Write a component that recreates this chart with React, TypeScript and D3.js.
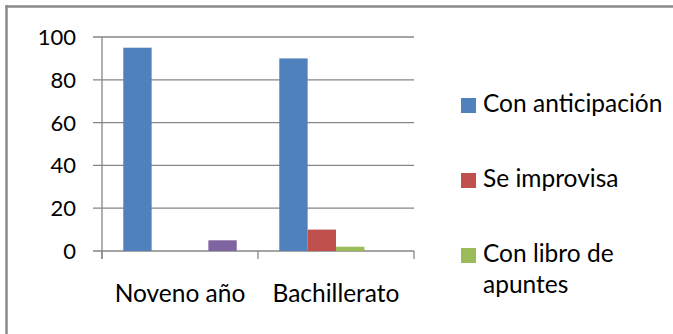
import React from "react";
import * as d3 from "d3";

const categories = ["Noveno año", "Bachillerato"];
const seriesNames = ["Con anticipación", "Se improvisa", "Con libro de apuntes", "Otro"];
const conAnticipacion = [95, 90];
const seImprovisa = [0, 10];
const conLibro = [0, 2];
const otro = [5, 0];
const yTicks = [0, 20, 40, 60, 80, 100];
const legendItems = [
  { name: "Con anticipación", lines: ["Con anticipación"] },
  { name: "Se improvisa", lines: ["Se improvisa"] },
  { name: "Con libro de apuntes", lines: ["Con libro de", "apuntes"] },
];

const colors: Record<string, string> = {
  "Con anticipación": "#4F81BD",
  "Se improvisa": "#C0504D",
  "Con libro de apuntes": "#9BBB59",
  Otro: "#8064A2",
};

const seriesValues = [conAnticipacion, seImprovisa, conLibro, otro];

export default function App() {
  const W = 673;
  const H = 334;
  const left = 102;
  const right = 414;
  const top = 37;
  const bottom = 251;
  const font = "Lato, 'Open Sans', sans-serif";
  const fsTick = 22;
  const fs = 24.5;

  const y = d3.scaleLinear().domain([0, 100]).range([bottom, top]);
  const x0 = d3
    .scaleBand<string>()
    .domain(categories)
    .range([left, right])
    .paddingInner(1.5 / 5.5)
    .paddingOuter(0.75 / 5.5);
  const x1 = d3
    .scaleBand<string>()
    .domain(seriesNames)
    .range([0, x0.bandwidth()]);
  const step = (right - left) / categories.length;
  const grid = "#868686";

  return (
    <svg
      width={W}
      height={H}
      style={{ position: "fixed", left: 0, top: 0, display: "block", background: "#fff", overflow: "hidden" }}
    >
      <rect x={0} y={0} width={W} height={H} fill="#fff" />
      {/* outer border (only left/top visible) */}
      <line x1={6.5} x2={6.5} y1={5.3} y2={H} stroke="#8a8a8a" strokeWidth={2.5} />
      <line x1={5.3} x2={W} y1={6.5} y2={6.5} stroke="#8a8a8a" strokeWidth={2.5} />

      {/* gridlines */}
      {yTicks.map((t) => (
        <line key={"g" + t} x1={left - 9} x2={right} y1={y(t)} y2={y(t)} stroke={grid} strokeWidth={1.3} />
      ))}
      {/* y axis */}
      <line x1={left} x2={left} y1={top} y2={bottom + 8} stroke={grid} strokeWidth={1.3} />
      {/* x tick marks */}
      {d3.range(categories.length + 1).map((i) => (
        <line
          key={"xt" + i}
          x1={left + i * step}
          x2={left + i * step}
          y1={bottom}
          y2={bottom + 8}
          stroke={grid}
          strokeWidth={1.3}
        />
      ))}

      {/* bars */}
      {categories.map((c, ci) =>
        seriesNames.map((s, si) => {
          const v = seriesValues[si][ci];
          if (!v) return null;
          return (
            <rect
              key={c + s}
              x={(x0(c) as number) + (x1(s) as number)}
              y={y(v)}
              width={x1.bandwidth()}
              height={y(0) - y(v)}
              fill={colors[s]}
            />
          );
        })
      )}

      {/* y tick labels */}
      {yTicks.map((t) => (
        <text
          key={"yl" + t}
          x={76}
          y={y(t)}
          dy="0.36em"
          textAnchor="end"
          fontFamily={font}
          fontSize={fsTick}
          fill="#000"
        >
          {t}
        </text>
      ))}

      {/* x category labels */}
      {categories.map((c) => (
        <text
          key={"xl" + c}
          x={(x0(c) as number) + x0.bandwidth() / 2}
          y={302}
          textAnchor="middle"
          fontFamily={font}
          fontSize={fs}
          fill="#000"
        >
          {c}
        </text>
      ))}

      {/* legend */}
      {legendItems.map((it, i) => {
        const base = 112 + i * 75;
        return (
          <g key={"lg" + it.name}>
            <rect x={461} y={base - 14} width={15} height={15} fill={colors[it.name]} />
            {it.lines.map((ln, li) => (
              <text
                key={ln}
                x={483}
                y={base + li * 31}
                fontFamily={font}
                fontSize={fs}
                fill="#000"
              >
                {ln}
              </text>
            ))}
          </g>
        );
      })}
    </svg>
  );
}
